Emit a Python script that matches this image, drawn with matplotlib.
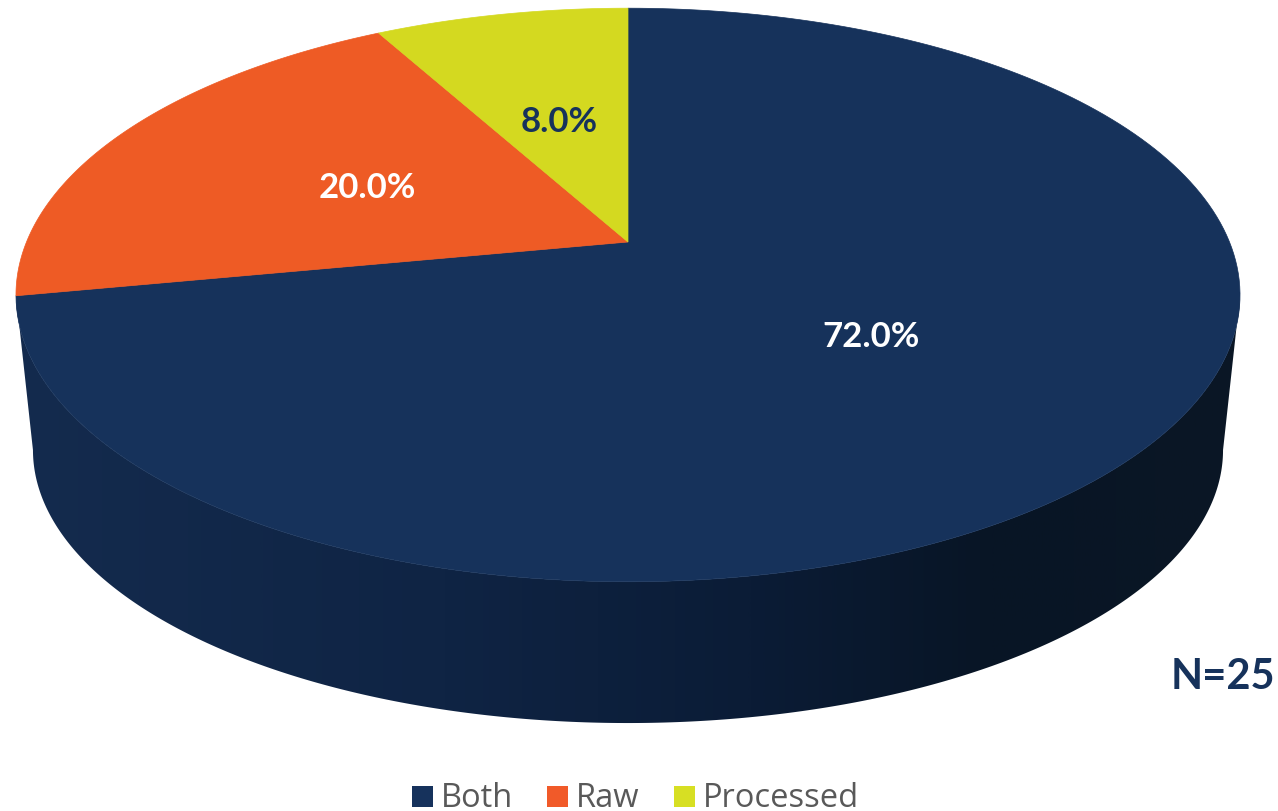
import numpy as np
import matplotlib
matplotlib.use('Agg')
import matplotlib.pyplot as plt
from matplotlib.colors import LinearSegmentedColormap
from matplotlib.patches import Polygon, Rectangle

categories = ['Both', 'Raw', 'Processed']
values = [72.0, 20.0, 8.0]
sample_note = 'N=25'

slice_colors = ['#16325b', '#ee5b25', '#d4d920']
legend_colors = ['#16325c', '#f15a29', '#d7df23']
label_colors = ['white', 'white', '#16325b']
legend_x = [412, 547, 674]

# perspective of the pie, in pixels
CX = 628
K = 0.1847
TOP_Y, TOP_A, TOP_B = 242, 601.5, 277
BOT_Y, BOT_A, BOT_B = 399.6, 584.8, 263.7


def project(u, v, a=TOP_A, b=TOP_B, y0=TOP_Y):
    d = 1 + K * v
    return CX + a * u / d, y0 - b * v / d


def wedge_points(start, end):
    # angles are clockwise from 12 o'clock
    t = np.linspace(start, end, 200)
    x, y = project(np.sin(t), np.cos(t))
    ax_, ay_ = project(0.0, 0.0)
    return np.column_stack([np.r_[ax_, x], np.r_[ay_, y]])


fig = plt.figure(figsize=(12.78, 8.11), dpi=100)
ax = fig.add_axes([0, 0, 1, 1])
ax.set_xlim(0, 1278)
ax.set_ylim(811, 0)
ax.axis('off')

# side of the disc, from the widest point of the top rim round the front
t0 = np.arccos(-K)
t = np.linspace(t0, 2 * np.pi - t0, 300)
xt, yt = project(np.sin(t), np.cos(t))
xb, yb = project(np.sin(t), np.cos(t), BOT_A, BOT_B, BOT_Y)
side = Polygon(np.column_stack([np.r_[xt, xb[::-1]], np.r_[yt, yb[::-1]]]),
               closed=True, facecolor='none', edgecolor='none')
ax.add_patch(side)
side_cmap = LinearSegmentedColormap.from_list('side', [
    (0.0, '#142b4e'), (0.35, '#0f2444'), (0.6, '#0b1c36'),
    (0.8, '#081525'), (1.0, '#0b1725')])
img = ax.imshow(np.linspace(0, 1, 512).reshape(1, -1), cmap=side_cmap,
                extent=[15, 1240, 730, 290], aspect='auto', zorder=1)
img.set_clip_path(side)
ax.set_xlim(0, 1278)
ax.set_ylim(811, 0)

# top face
angles = 2 * np.pi * np.r_[0, np.cumsum(values)] / sum(values)
for i, val in enumerate(values):
    pts = wedge_points(angles[i], angles[i + 1])
    ax.add_patch(Polygon(pts, closed=True, facecolor=slice_colors[i],
                         edgecolor=slice_colors[i], linewidth=0.5, zorder=2))
    mid = (angles[i] + angles[i + 1]) / 2
    lx, ly = project(0.495 * np.sin(mid), 0.495 * np.cos(mid))
    ax.text(lx - 1, ly + 2, '%.1f%%' % val, color=label_colors[i], fontsize=25,
            fontfamily='Lato', fontweight='bold', ha='center', va='center',
            zorder=3)

ax.text(1275, 677, sample_note, color='#16325b', fontsize=30, fontfamily='Lato',
        fontweight='bold', ha='right', va='center')

# legend sits right on the bottom edge of the picture
for name, col, x in zip(categories, legend_colors, legend_x):
    ax.add_patch(Rectangle((x, 786), 21, 21, facecolor=col, edgecolor='none'))
    ax.text(x + 29, 807, name, color='#595959', fontsize=23.5,
            fontfamily='Open Sans', ha='left', va='baseline')

fig.savefig('out.png', dpi=100)
